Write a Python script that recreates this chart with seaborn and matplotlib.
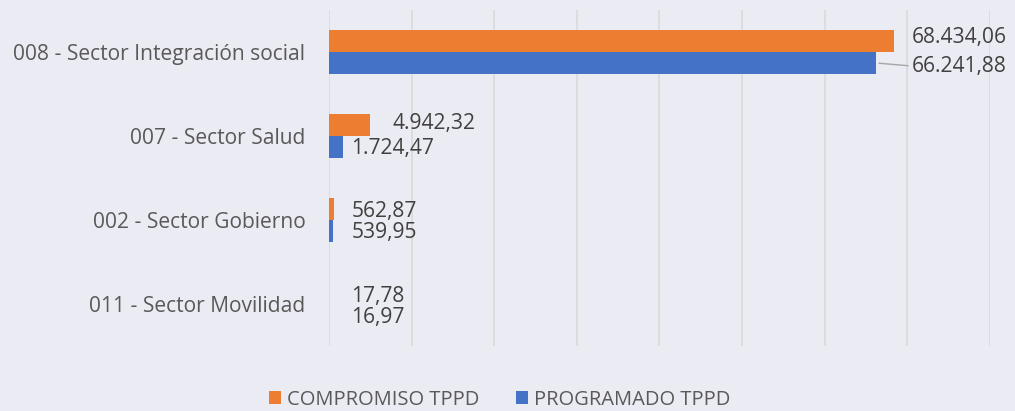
import matplotlib
matplotlib.use("Agg")
import matplotlib.pyplot as plt
import seaborn as sns
import pandas as pd
from matplotlib.ticker import MultipleLocator

sectores = ["008 - Sector Integración social", "007 - Sector Salud",
            "002 - Sector Gobierno", "011 - Sector Movilidad"]
compromiso = [68434.06, 4942.32, 562.87, 17.78]
programado = [66241.88, 1724.47, 539.95, 16.97]
series = ["COMPROMISO TPPD", "PROGRAMADO TPPD"]
colores = ["#ED7D31", "#4472C4"]

df = pd.DataFrame({
    "sector": sectores * 2,
    "valor": compromiso + programado,
    "serie": [series[0]] * 4 + [series[1]] * 4,
})

BG = "#EBEBF3"
sns.set_style("darkgrid", {"axes.facecolor": BG, "grid.color": "#D9D9D9",
                           "axes.edgecolor": BG})
plt.rcParams["font.family"] = ["Open Sans", "DejaVu Sans"]

fig = plt.figure(figsize=(10.15, 4.11), dpi=100, facecolor=BG)
ax = fig.add_axes([0.3241, 0.158, 0.6513, 0.8177])
sns.barplot(data=df, x="valor", y="sector", hue="serie", orient="h",
            palette=colores, width=0.524, ax=ax, saturation=1,
            hue_order=series, order=sectores, linewidth=0)

ax.set_xlim(0, 80000)
ax.xaxis.set_major_locator(MultipleLocator(10000))
ax.set_xticklabels([])
ax.tick_params(axis="x", length=0)
ax.tick_params(axis="y", length=0, pad=17, labelsize=15.1, labelcolor="#595959")
ax.grid(axis="y", visible=False)
ax.grid(axis="x", color="#D9D9D9", linewidth=1.2)
ax.set_xlabel("")
ax.set_ylabel("")
for s in ax.spines.values():
    s.set_visible(False)

def fmt(v):
    s = f"{v:,.2f}"
    return s.replace(",", "X").replace(".", ",").replace("X", ".")

# label offsets in pixels (dx, dy)
off_c = [(17, 3), (23, 2), (18, -2), (22, -3)]
off_p = [(35, -3), (8, -1), (18, -1), (22, -2)]
for cont, offs, vals in zip(ax.containers, [off_c, off_p], [compromiso, programado]):
    for bar, (dx, dy), v in zip(cont, offs, vals):
        xe = bar.get_x() + bar.get_width()
        yc = bar.get_y() + bar.get_height() / 2
        kw = {}
        if dx > 30:
            kw["arrowprops"] = dict(arrowstyle="-", color="#A6A6A6", lw=1,
                                    shrinkA=0, shrinkB=2, relpos=(0, 0.5))
        ax.annotate(fmt(v), xy=(xe, yc), xytext=(dx, dy),
                    textcoords="offset pixels", ha="left", va="center",
                    fontsize=15.1, color="#404040", **kw)

h, l = ax.get_legend_handles_labels()
if ax.legend_:
    ax.legend_.remove()
fig.legend(h, l, loc="center", bbox_to_anchor=(0.4926, 0.027), ncol=2,
           frameon=False, fontsize=14.5, labelcolor="#595959",
           handlelength=0.6, handleheight=0.6, handletextpad=0.3,
           columnspacing=1.8)

fig.savefig("out.png", dpi=100, facecolor=BG)
